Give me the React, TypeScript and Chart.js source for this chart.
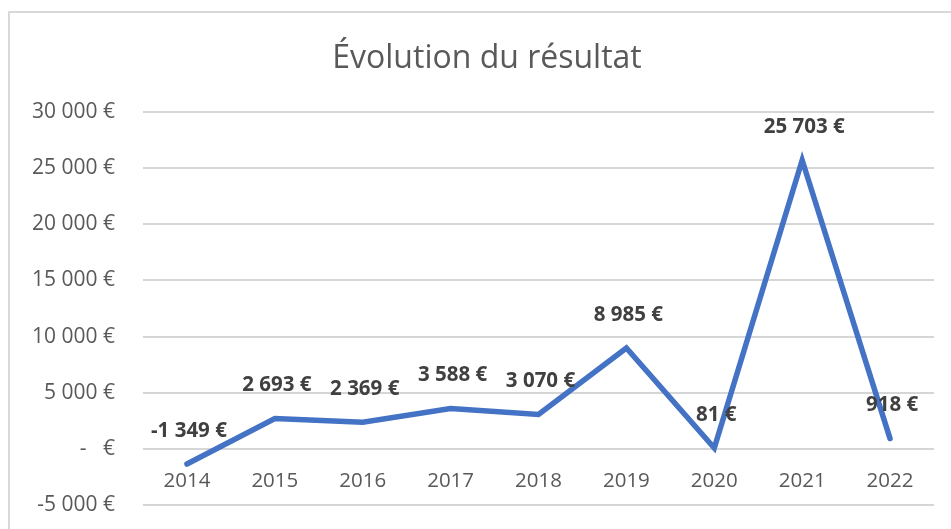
import React, { useEffect, useRef } from "react";
import { Chart, registerables } from "chart.js";

Chart.register(...registerables);

const TITLE = "Évolution du résultat";
const YEARS = ["2014", "2015", "2016", "2017", "2018", "2019", "2020", "2021", "2022"];
const RESULTS = [-1349, 2693, 2369, 3588, 3070, 8985, 81, 25703, 918];
const Y_MIN = -5000;
const Y_MAX = 30000;
const Y_STEP = 5000;

const FONT = "'Open Sans', 'Noto Sans', sans-serif";

function fmtEuro(v: number): string {
  if (v === 0) return "-   €";
  const sign = v < 0 ? "-" : "";
  const s = Math.abs(Math.round(v)).toString().replace(/\B(?=(\d{3})+(?!\d))/g, " ");
  return sign + s + " €";
}

const titlePlugin = {
  id: "customTitle",
  afterDraw(chart: any) {
    const ctx = chart.ctx;
    ctx.save();
    ctx.font = `32px ${FONT}`;
    ctx.fillStyle = "#595959";
    ctx.textAlign = "center";
    ctx.textBaseline = "alphabetic";
    ctx.fillText(TITLE, 487, 68);
    ctx.restore();
  },
};

const dataLabelPlugin = {
  id: "dataLabels",
  afterDatasetsDraw(chart: any) {
    const ctx = chart.ctx;
    const meta = chart.getDatasetMeta(0);
    ctx.save();
    ctx.font = `bold 20.5px ${FONT}`;
    ctx.fillStyle = "#404040";
    ctx.textAlign = "center";
    ctx.textBaseline = "middle";
    meta.data.forEach((pt: any, i: number) => {
      ctx.fillText(fmtEuro(RESULTS[i]), pt.x + 2, pt.y - 33);
    });
    ctx.restore();
  },
};

export default function App() {
  const ref = useRef<HTMLCanvasElement | null>(null);

  useEffect(() => {
    if (!ref.current) return;
    const chart = new Chart(ref.current, {
      type: "line",
      data: {
        labels: YEARS,
        datasets: [
          {
            data: RESULTS,
            borderColor: "#4472C4",
            backgroundColor: "#4472C4",
            borderWidth: 5.5,
            borderCapStyle: "round",
            pointRadius: 0,
            tension: 0,
          },
        ],
      },
      options: {
        responsive: false,
        animation: false,
        layout: { padding: { left: 0, right: 17, top: 112, bottom: 24 } },
        plugins: {
          legend: { display: false },
          title: { display: false },
          tooltip: { enabled: false },
        },
        scales: {
          x: {
            position: { y: 0 } as any,
            offset: true,
            grid: { display: false, drawTicks: false },
            border: { display: false },
            ticks: {
              color: "#595959",
              font: { family: FONT, size: 20.5 },
              padding: 20,
              maxRotation: 0,
            },
          },
          y: {
            min: Y_MIN,
            max: Y_MAX,
            afterFit(scale: any) {
              scale.width = 143;
            },
            grid: {
              color: "#D6D6D6",
              lineWidth: 2,
              drawTicks: true,
              tickLength: 28,
              tickColor: "rgba(0,0,0,0)",
            },
            border: { display: false },
            ticks: {
              stepSize: Y_STEP,
              color: "#595959",
              font: { family: FONT, size: 21 },
              padding: 0,
              callback: (v: any) => fmtEuro(Number(v)),
            },
          },
        },
      },
      plugins: [titlePlugin, dataLabelPlugin],
    });
    return () => chart.destroy();
  }, []);

  return (
    <div style={{ position: "fixed", left: 0, top: 0, width: 951, height: 529, background: "#fff", overflow: "hidden" }}>
      <div
        style={{
          position: "absolute",
          left: 8,
          top: 11,
          width: 1000,
          height: 1000,
          borderLeft: "2px solid #D9D9D9",
          borderTop: "2px solid #D9D9D9",
        }}
      />
      <canvas ref={ref} width={951} height={529} style={{ position: "absolute", left: 0, top: 0 }} />
    </div>
  );
}
